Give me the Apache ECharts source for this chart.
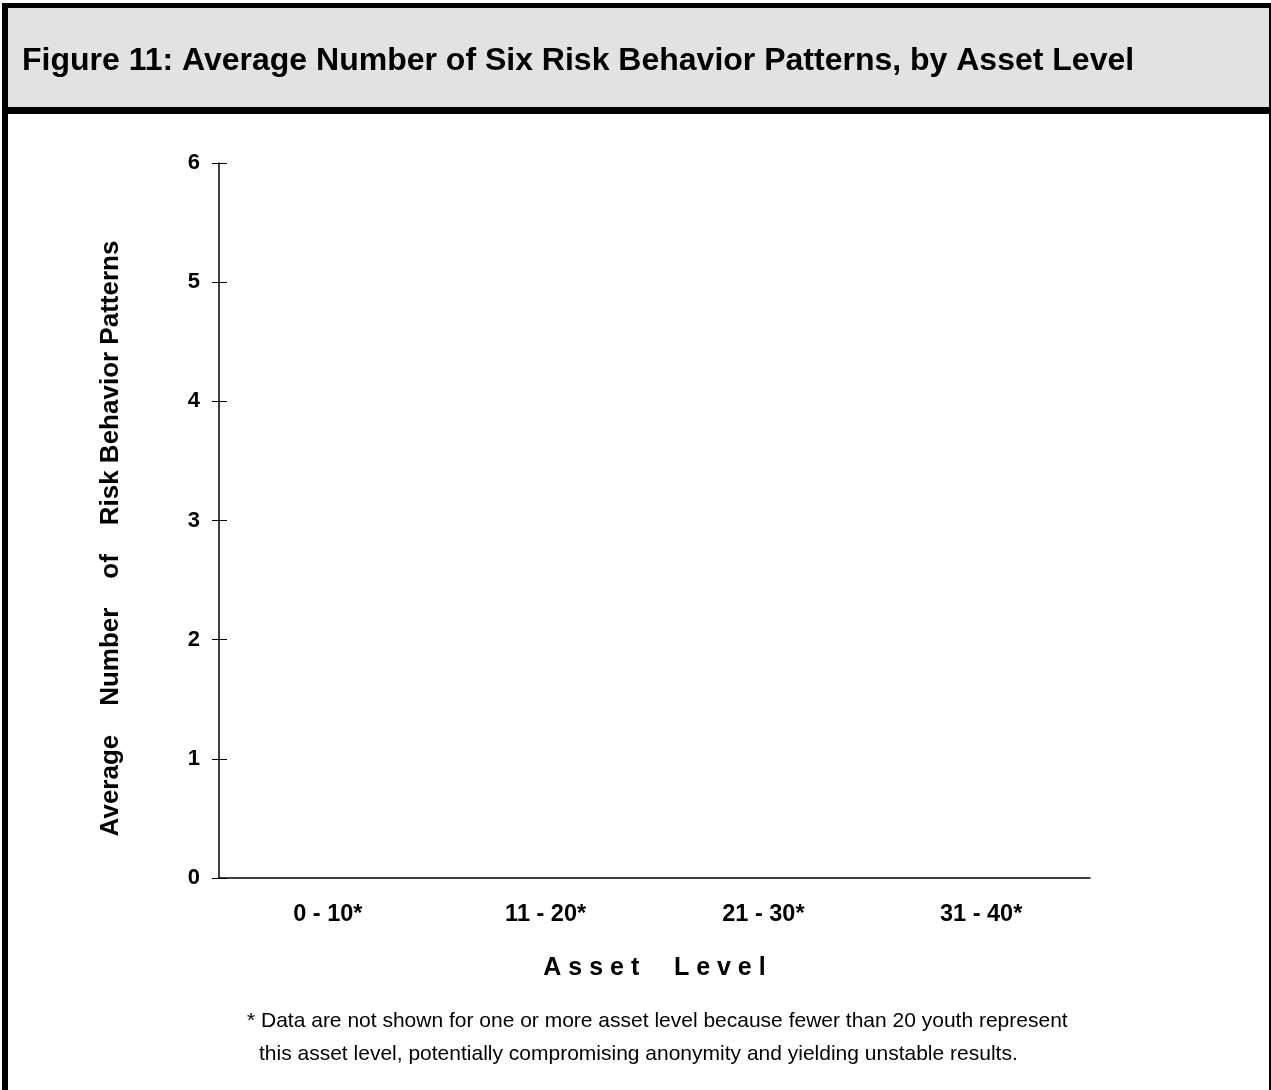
<!DOCTYPE html>
<html>
<head>
<meta charset="utf-8">
<script src="https://cdn.jsdelivr.net/npm/echarts@6/dist/echarts.min.js"></script>
<style>
html,body{margin:0;padding:0;background:#fff;}
#chart{width:1271px;height:1090px;}
</style>
</head>
<body>
<div id="chart"></div>
<script>
const titleText = 'Figure 11: Average Number of Six Risk Behavior Patterns, by Asset Level';
const categories = ['0 - 10*', '11 - 20*', '21 - 30*', '31 - 40*'];
const values = [null, null, null, null]; // data not shown for any asset level
const yTicks = [0, 1, 2, 3, 4, 5, 6];
const yAxisTitle = 'Average    Number    of    Risk Behavior Patterns';
const xAxisTitle = 'A s s e t     L e v e l';
const footnoteLine1 = '* Data are not shown for one or more asset level because fewer than 20 youth represent';
const footnoteLine2 = 'this asset level, potentially compromising anonymity and yielding unstable results.';

const FONT = '"Liberation Sans", Arial, Helvetica, sans-serif';
const chart = echarts.init(document.getElementById('chart'), null, {renderer: 'canvas'});

const yMin = yTicks[0], yMax = yTicks[yTicks.length - 1];

chart.setOption({
  backgroundColor: '#ffffff',
  animation: false,
  textStyle: {fontFamily: FONT},
  grid: {left: 219, right: 181, top: 163, bottom: 212, containLabel: false},
  xAxis: {
    type: 'category',
    data: categories,
    axisLine: {show: true, lineStyle: {color: '#000', width: 1.5}},
    axisTick: {show: false},
    axisLabel: {color: '#000', fontWeight: 'bold', fontSize: 23.5, fontFamily: FONT, margin: 25},
    name: xAxisTitle,
    nameLocation: 'middle',
    nameGap: 78,
    nameTextStyle: {color: '#000', fontWeight: 'bold', fontSize: 25, fontFamily: FONT}
  },
  yAxis: [{
    type: 'value',
    position: 'left',
    min: yMin, max: yMax, interval: 1,
    axisLine: {show: true, lineStyle: {color: '#000', width: 1.5}},
    axisTick: {show: true, length: 7, lineStyle: {color: '#000', width: 1}},
    axisLabel: {color: '#000', fontWeight: 'bold', fontSize: 22, fontFamily: FONT, margin: 19},
    splitLine: {show: false},
    name: yAxisTitle,
    nameLocation: 'middle',
    nameGap: 95,
    nameRotate: 90,
    nameTextStyle: {color: '#000', fontWeight: 'bold', fontSize: 26, fontFamily: FONT, padding: [0, 36, 0, 0]}
  }, {
    type: 'value',
    position: 'left',
    offset: 0,
    min: yMin, max: yMax, interval: 1,
    axisLine: {show: false},
    axisTick: {show: true, inside: true, length: 8, lineStyle: {color: '#000', width: 1}},
    axisLabel: {show: false},
    splitLine: {show: false}
  }],
  series: [{
    type: 'bar',
    data: values,
    itemStyle: {color: '#000'}
  }],
  graphic: [
    {type: 'rect', z: 0, shape: {x: 8, y: 8, width: 1261, height: 100}, style: {fill: '#e2e2e2'}},
    {type: 'rect', z: 10, shape: {x: 2, y: 3, width: 1269, height: 5}, style: {fill: '#000'}},
    {type: 'rect', z: 10, shape: {x: 2, y: 3, width: 6, height: 1087}, style: {fill: '#000'}},
    {type: 'rect', z: 10, shape: {x: 1269, y: 3, width: 4, height: 1087}, style: {fill: '#000'}},
    {type: 'rect', z: 10, shape: {x: 2, y: 107, width: 1269, height: 7}, style: {fill: '#000'}},
    {type: 'text', z: 11, x: 22, y: 61, style: {text: titleText, fill: '#000', font: 'bold 32px ' + FONT, verticalAlign: 'middle'}},
    {type: 'text', z: 11, x: 247, y: 1021, style: {text: footnoteLine1, fill: '#000', font: '21px ' + FONT, verticalAlign: 'middle'}},
    {type: 'text', z: 11, x: 259, y: 1054, style: {text: footnoteLine2, fill: '#000', font: '21px ' + FONT, verticalAlign: 'middle'}}
  ]
});
</script>
</body>
</html>
